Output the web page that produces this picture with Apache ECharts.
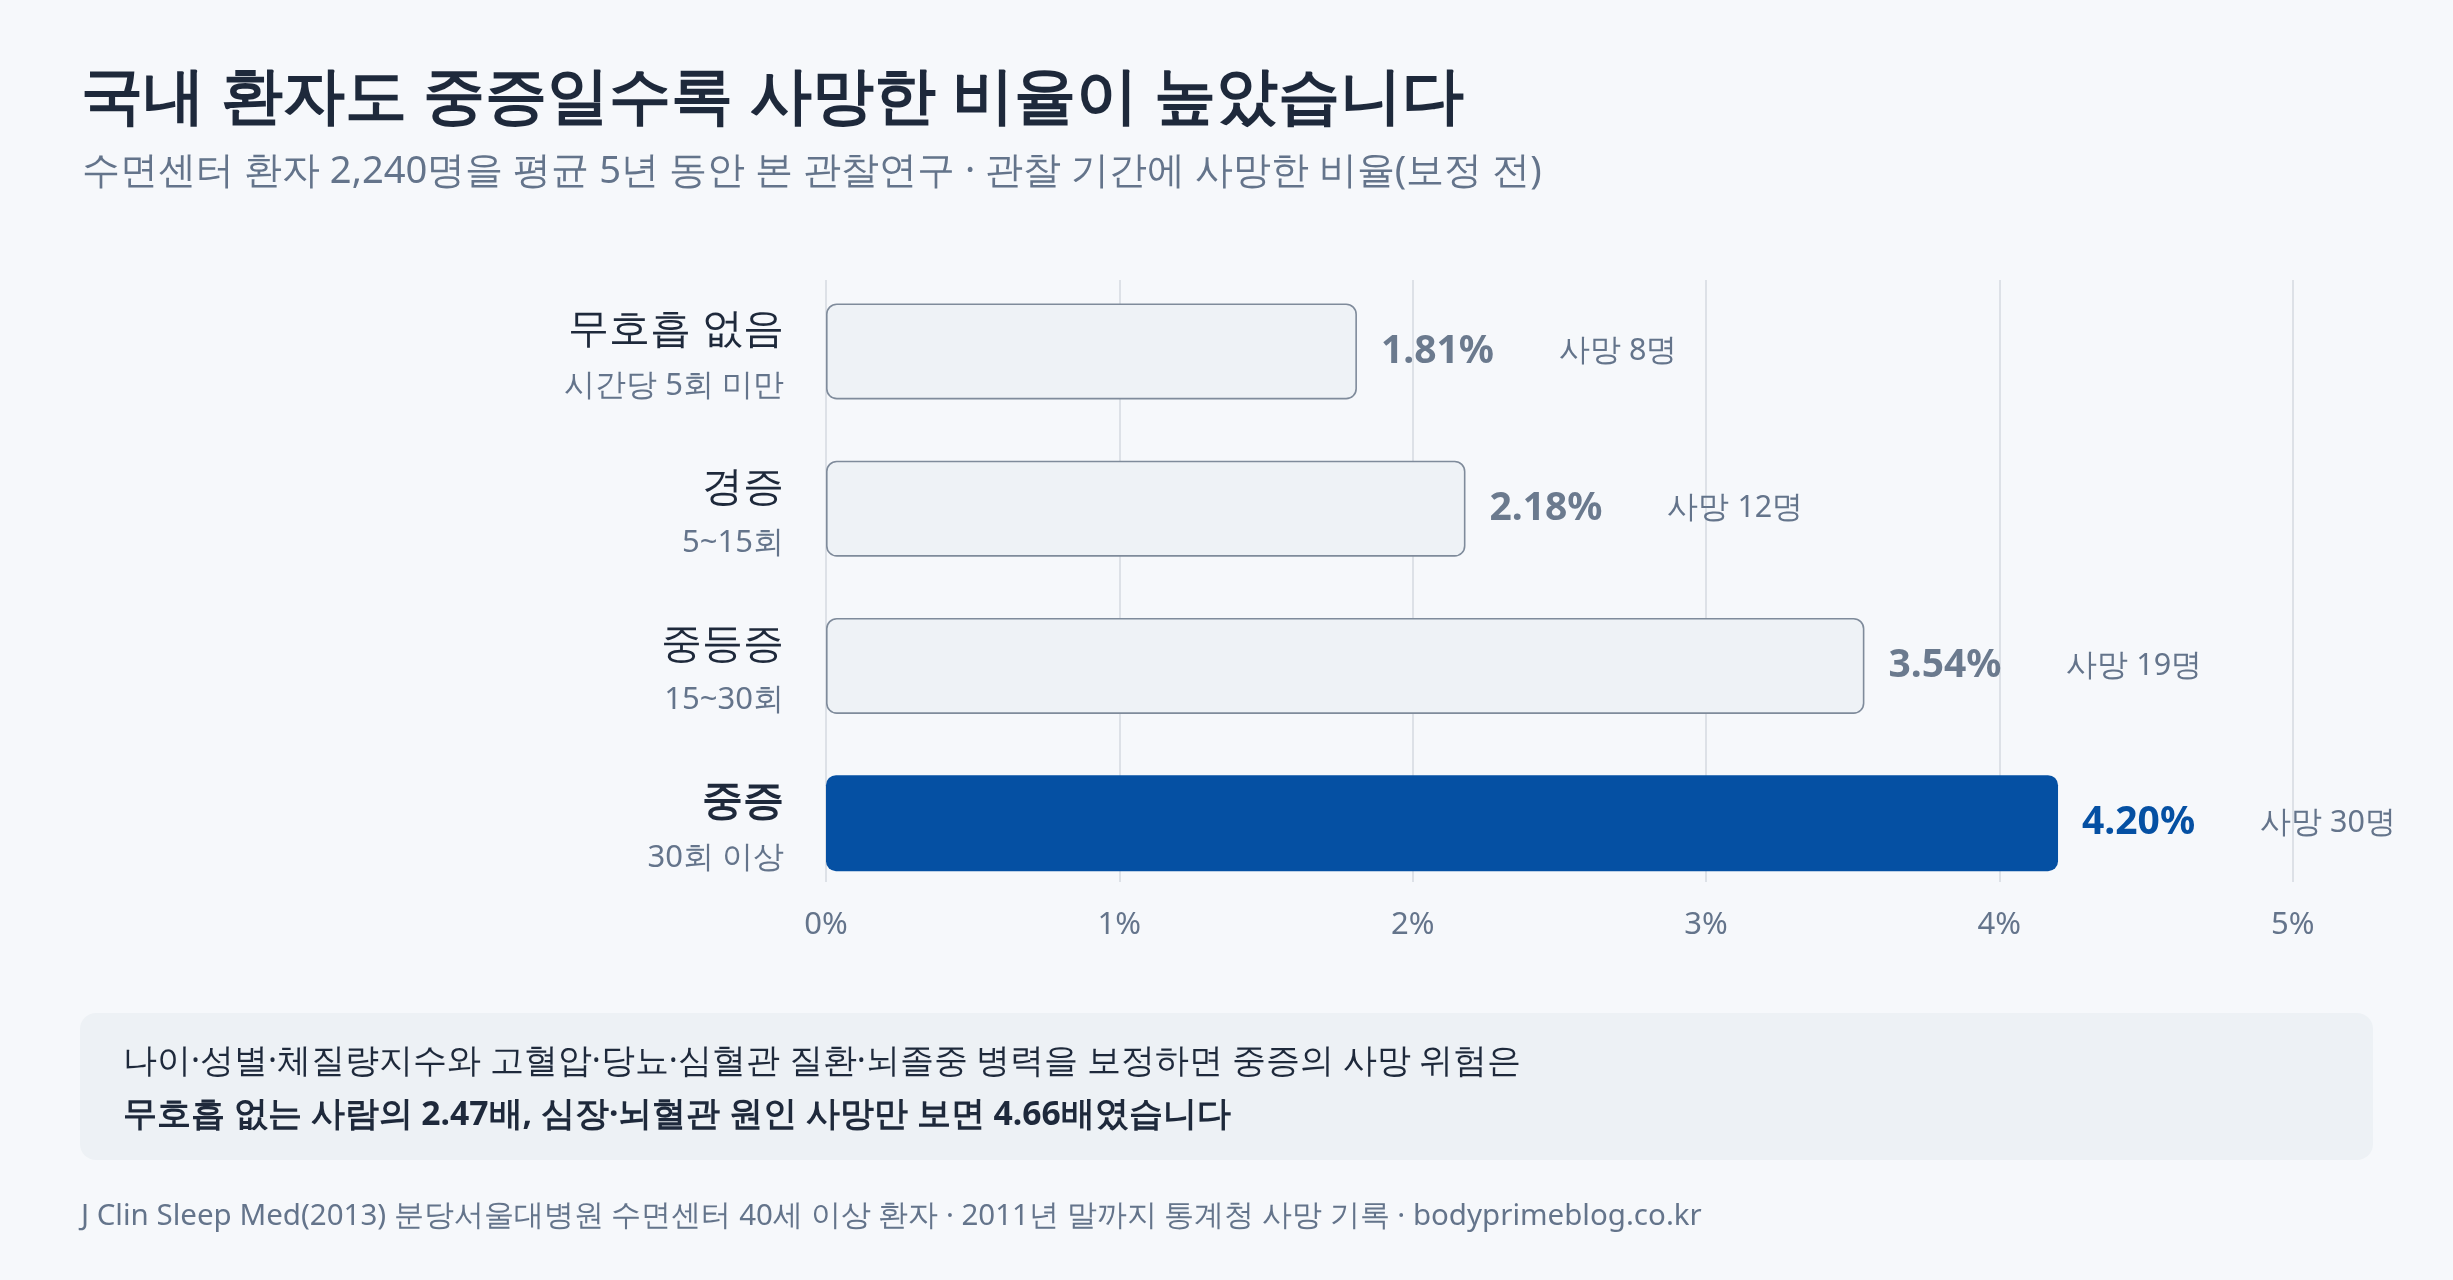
<!DOCTYPE html>
<html>
<head>
<meta charset="utf-8">
<script src="https://cdn.jsdelivr.net/npm/echarts@6/dist/echarts.min.js"></script>
<style>
  html, body { margin: 0; padding: 0; background: #f6f8fb; }
  #chart { width: 2453px; height: 1280px; }
</style>
</head>
<body>
<div id="chart"></div>
<script>
const FONT = "'Noto Sans', sans-serif";

const categories = ['무호흡 없음', '경증', '중등증', '중증'];
const subLabels = ['시간당 5회 미만', '5~15회', '15~30회', '30회 이상'];
const rates = [1.81, 2.18, 3.54, 4.20];
const deaths = [8, 12, 19, 30];
const highlightIndex = 3;
const xMin = 0, xMax = 5, xStep = 1;

const titleText = '국내 환자도 중증일수록 사망한 비율이 높았습니다';
const subtitleText = '수면센터 환자 2,240명을 평균 5년 동안 본 관찰연구 · 관찰 기간에 사망한 비율(보정 전)';
const noteLine1 = '나이·성별·체질량지수와 고혈압·당뇨·심혈관 질환·뇌졸중 병력을 보정하면 중증의 사망 위험은';
const noteLine2 = '무호흡 없는 사람의 2.47배, 심장·뇌혈관 원인 사망만 보면 4.66배였습니다';
const footerText = 'J Clin Sleep Med(2013) 분당서울대병원 수면센터 40세 이상 환자 · 2011년 말까지 통계청 사망 기록 · bodyprimeblog.co.kr';

const BLUE = '#0550a3';
const SLATE = '#6b7a8e';

const chart = echarts.init(document.getElementById('chart'));

const barData = rates.map((v, i) => {
  const hi = i === highlightIndex;
  return {
    value: v,
    itemStyle: hi
      ? { color: BLUE, borderColor: BLUE, borderWidth: 0 }
      : { color: '#eef2f6', borderColor: '#7f8b9b', borderWidth: 1.6 },
    label: {
      rich: {
        v: { fontFamily: FONT, fontSize: 39, fontWeight: 'bold', color: hi ? BLUE : SLATE, width: 178 },
        d: { fontFamily: FONT, fontSize: 30.5, color: '#64748b' }
      }
    }
  };
});

const option = {
  backgroundColor: '#f6f8fb',
  animation: false,
  textStyle: { fontFamily: FONT },
  grid: [
    { left: 826, right: 160.3, top: 272.8, height: 629, containLabel: false },
    { left: 826, right: 160.3, top: 280, height: 602, containLabel: false }
  ],
  xAxis: [
    {
      gridIndex: 0, type: 'value', min: xMin, max: xMax, interval: xStep,
      show: false
    },
    {
      gridIndex: 1, type: 'value', min: xMin, max: xMax, interval: xStep,
      axisLine: { show: false }, axisTick: { show: false },
      splitLine: { show: true, lineStyle: { color: '#dde1e7', width: 2 } },
      axisLabel: {
        formatter: '{value}%', margin: 28, fontSize: 31, color: '#64748b', fontFamily: FONT
      }
    }
  ],
  yAxis: [
    {
      gridIndex: 0, type: 'category', data: categories, inverse: true,
      axisLine: { show: false }, axisTick: { show: false }, splitLine: { show: false },
      axisLabel: {
        margin: 42,
        align: 'right',
        formatter: function (val, idx) {
          const m = idx === highlightIndex ? 'mb' : 'm';
          return '{' + m + '|' + val + '}\n{s|' + subLabels[idx] + '}';
        },
        rich: {
          m: { fontFamily: FONT, fontSize: 40.5, color: '#1e293b', lineHeight: 69, align: 'right' },
          mb: { fontFamily: FONT, fontSize: 40.5, fontWeight: 'bold', color: '#1e293b', lineHeight: 69, align: 'right' },
          s: { fontFamily: FONT, fontSize: 31, color: '#64748b', lineHeight: 41, align: 'right' }
        }
      }
    },
    {
      gridIndex: 1, type: 'value', min: 0, max: 1, show: false
    }
  ],
  series: [
    {
      type: 'bar',
      xAxisIndex: 0, yAxisIndex: 0,
      data: barData,
      barWidth: 96,
      itemStyle: { borderRadius: 10 },
      label: {
        show: true,
        position: 'right',
        distance: 24,
        formatter: function (p) {
          return '{v|' + rates[p.dataIndex].toFixed(2) + '%}{d|사망 ' + deaths[p.dataIndex] + '명}';
        }
      },
      z: 3
    }
  ],
  graphic: [
    {
      type: 'text', x: 81, y: 99,
      style: { text: titleText, font: 'bold 62.4px ' + FONT, fill: '#1e293b', textVerticalAlign: 'middle' }
    },
    {
      type: 'text', x: 82, y: 172,
      style: { text: subtitleText, font: '38.2px ' + FONT, fill: '#64748b', textVerticalAlign: 'middle' }
    },
    {
      type: 'rect', shape: { x: 80, y: 1013, width: 2293, height: 147, r: 16 },
      style: { fill: '#edf1f5' }, z: -1
    },
    {
      type: 'text', x: 123, y: 1062.5,
      style: { text: noteLine1, font: '33.7px ' + FONT, fill: '#1e293b', textVerticalAlign: 'middle' }
    },
    {
      type: 'text', x: 123, y: 1115,
      style: { text: noteLine2, font: 'bold 33.7px ' + FONT, fill: '#1e293b', textVerticalAlign: 'middle' }
    },
    {
      type: 'text', x: 81, y: 1217,
      style: { text: footerText, font: '29.5px ' + FONT, fill: '#64748b', textVerticalAlign: 'middle' }
    }
  ]
};

chart.setOption(option);
</script>
</body>
</html>
